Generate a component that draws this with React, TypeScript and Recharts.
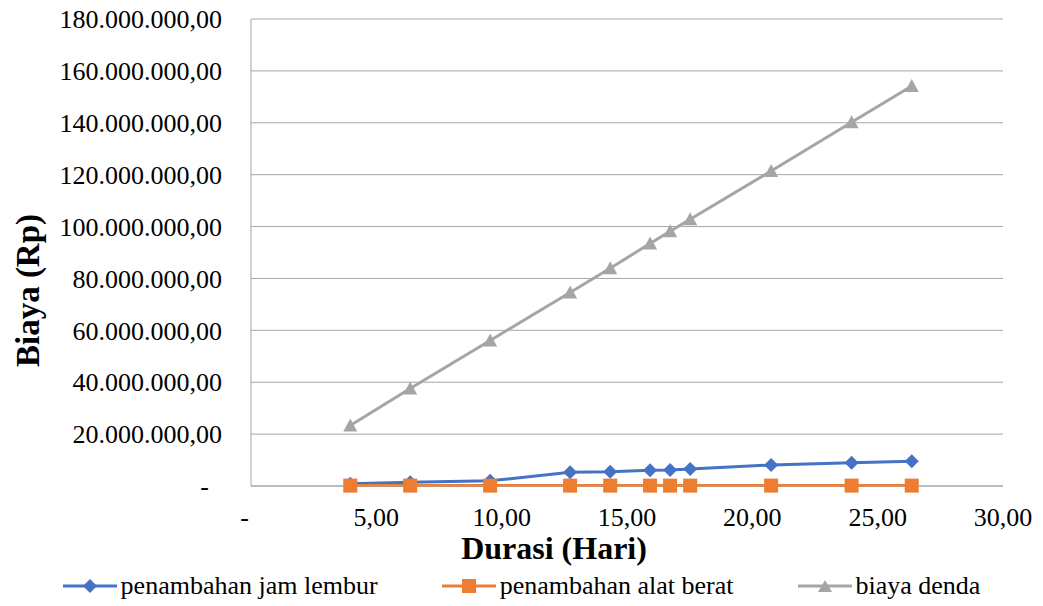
import React from 'react';
import {
  LineChart, Line, XAxis, YAxis, CartesianGrid, Legend,
} from 'recharts';

// durasi (hari) per alternatif percepatan
const durasi = [3.96, 6.35, 9.54, 12.73, 14.33, 15.92, 16.72, 17.52, 20.75, 23.96, 26.36];
const jamLembur = [900000, 1400000, 2000000, 5300000, 5500000, 6100000, 6200000, 6600000, 8100000, 9000000, 9500000];
const alatBerat = [150000, 150000, 150000, 150000, 150000, 150000, 150000, 150000, 150000, 150000, 150000];
const biayaDenda = [23300000, 37600000, 56100000, 74600000, 83900000, 93500000, 98200000, 102800000, 121400000, 140200000, 154200000];

const xTicks = [0, 5, 10, 15, 20, 25, 30];
const yTicks = [0, 20000000, 40000000, 60000000, 80000000, 100000000, 120000000, 140000000, 160000000, 180000000];

const BLUE = '#4472C4';
const ORANGE = '#ED7D31';
const GRAY = '#A5A5A5';
const FONT = '"Liberation Serif", "Times New Roman", serif';

const data = durasi.map((d, i) => ({
  durasi: d,
  lembur: jamLembur[i],
  alat: alatBerat[i],
  denda: biayaDenda[i],
}));

const fmtRp = (v: number) =>
  v === 0 ? '-\u00a0\u00a0' : Math.round(v).toString().replace(/\B(?=(\d{3})+(?!\d))/g, '.') + ',00';
const fmtHari = (v: number) => (v === 0 ? '-\u00a0\u00a0' : v.toFixed(2).replace('.', ','));

const Diamond = (props: any) => {
  const { cx, cy } = props;
  if (cx == null || cy == null) return null;
  const r = 7;
  return <path d={`M${cx},${cy - r}L${cx + r},${cy}L${cx},${cy + r}L${cx - r},${cy}Z`} fill={BLUE} />;
};
const Square = (props: any) => {
  const { cx, cy } = props;
  if (cx == null || cy == null) return null;
  return <rect x={cx - 7} y={cy - 7} width={14} height={14} fill={ORANGE} />;
};
const Triangle = (props: any) => {
  const { cx, cy } = props;
  if (cx == null || cy == null) return null;
  return <path d={`M${cx},${cy - 7}L${cx + 7},${cy + 6}L${cx - 7},${cy + 6}Z`} fill={GRAY} />;
};

const XTitle = (props: any) => {
  const { viewBox } = props;
  return (
    <text x={viewBox.x + viewBox.width / 2 - 73} y={viewBox.y + 73} textAnchor="middle"
      fontFamily={FONT} fontSize={32} fontWeight="bold" fill="#000">
      Durasi (Hari)
    </text>
  );
};
const YTitle = (props: any) => {
  const { viewBox } = props;
  const x = viewBox.x + 28;
  const y = viewBox.y + viewBox.height / 2 + 38;
  return (
    <text x={x} y={y} textAnchor="middle" dominantBaseline="central" transform={`rotate(-90, ${x}, ${y})`}
      fontFamily={FONT} fontSize={33} fontWeight="bold" fill="#000">
      Biaya (Rp)
    </text>
  );
};

const legendItems = [
  { label: 'penambahan jam lembur', color: BLUE, mark: 'diamond' },
  { label: 'penambahan alat berat', color: ORANGE, mark: 'square' },
  { label: 'biaya denda', color: GRAY, mark: 'triangle' },
];

const LegendContent = () => (
  <div style={{ height: 40, display: 'flex', justifyContent: 'center', alignItems: 'center', gap: 64, paddingLeft: 40, boxSizing: 'border-box', fontFamily: FONT, fontSize: 26, color: '#000', lineHeight: '30px' }}>
    {legendItems.map((it) => (
      <div key={it.label} style={{ display: 'flex', alignItems: 'center' }}>
        <svg width={54} height={16} style={{ marginRight: 4 }}>
          <line x1={0} y1={8} x2={54} y2={8} stroke={it.color} strokeWidth={3} />
          {it.mark === 'diamond' && <path d="M27,1L34,8L27,15L20,8Z" fill={it.color} />}
          {it.mark === 'square' && <rect x={20} y={1} width={14} height={14} fill={it.color} />}
          {it.mark === 'triangle' && <path d="M27,2L34,14L20,14Z" fill={it.color} />}
        </svg>
        <span>{it.label}</span>
      </div>
    ))}
  </div>
);

export default function App() {
  return (
    <div style={{ position: 'absolute', left: 0, top: 0, width: 1043, height: 606, background: '#fff' }}>
      <LineChart
        width={1043}
        height={606}
        data={data}
        margin={{ top: 19, right: 40, bottom: 0, left: 0 }}
        style={{ fontFamily: FONT }}
      >
        <CartesianGrid vertical={false} stroke="#A6A6A6" strokeWidth={1} />
        <XAxis
          dataKey="durasi"
          type="number"
          domain={[0, 30]}
          ticks={xTicks}
          tickFormatter={fmtHari}
          height={80}
          tickLine={false}
          axisLine={{ stroke: '#A6A6A6' }}
          tick={{ fill: '#000', fontSize: 26, fontFamily: FONT }}
          tickMargin={16}
          label={<XTitle />}
        />
        <YAxis
          type="number"
          domain={[0, 180000000]}
          ticks={yTicks}
          tickFormatter={fmtRp}
          width={251}
          tickLine={false}
          axisLine={{ stroke: '#A6A6A6' }}
          tick={{ fill: '#000', fontSize: 26, fontFamily: FONT }}
          tickMargin={23}
          interval={0}
          label={<YTitle />}
        />
        <Legend verticalAlign="bottom" content={<LegendContent />} />
        <Line dataKey="lembur" name="penambahan jam lembur" stroke={BLUE} strokeWidth={3} dot={<Diamond />} activeDot={false} isAnimationActive={false} />
        <Line dataKey="alat" name="penambahan alat berat" stroke={ORANGE} strokeWidth={3} dot={<Square />} activeDot={false} isAnimationActive={false} />
        <Line dataKey="denda" name="biaya denda" stroke={GRAY} strokeWidth={3} dot={<Triangle />} activeDot={false} isAnimationActive={false} />
      </LineChart>
    </div>
  );
}
